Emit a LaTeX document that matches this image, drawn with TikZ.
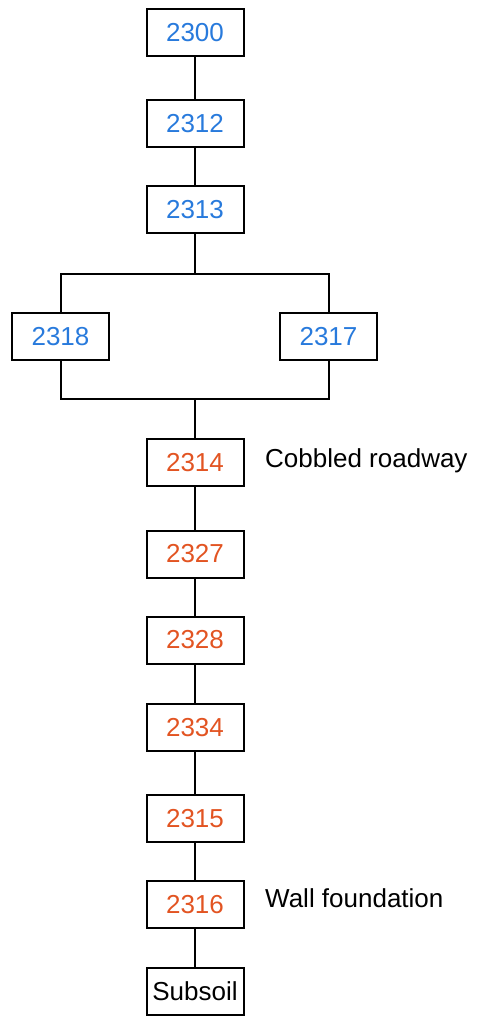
\documentclass[tikz,border=0pt]{standalone}
\usepackage{fontspec}
\setmainfont{Liberation Sans}
\usepackage{tikz}
\usetikzlibrary{calc}
\definecolor{ctxblue}{RGB}{40,122,220}
\definecolor{ctxorange}{RGB}{226,84,34}
\begin{document}
\begin{tikzpicture}[x=1pt,y=-1pt,
    ctx/.style={draw, line width=2pt, minimum width=97pt, minimum height=47pt, inner sep=0pt, font=\fontsize{26}{30}\selectfont},
    early/.style={ctx, text=ctxblue},
    late/.style={ctx, text=ctxorange},
    note/.style={font=\fontsize{26}{30}\selectfont, anchor=base west, inner sep=0pt},
    link/.style={line width=2pt}]
\useasboundingbox (0,0) rectangle (477,1016);
\node [early] (c2300) at (195,32.5) {2300};
\node [early] (c2312) at (195,124) {2312};
\node [early] (c2313) at (195,209.5) {2313};
\node [early] (c2318) at (60.5,336.5) {2318};
\node [early] (c2317) at (328.5,336.5) {2317};
\node [late] (c2314) at (195,462.5) {2314};
\node [late] (c2327) at (195,554) {2327};
\node [late] (c2328) at (195,640) {2328};
\node [late] (c2334) at (195,727.5) {2334};
\node [late] (c2315) at (195,818.5) {2315};
\node [late] (c2316) at (195,904.5) {2316};
\node [ctx, inner sep=1pt] (soil) at (195,991) {Subsoil};
\node [note] (road) at (265,467) {Cobbled roadway};
\node [note] (wall) at (265,907) {Wall foundation};
\coordinate (split) at (195,274);
\coordinate (merge) at (195,399);
\draw [link] (c2300) -- (c2312);
\draw [link] (c2312) -- (c2313);
\draw [link] (c2313) -- (split);
\draw [link] (c2318.north) -- (c2318.north |- split) -- (c2317.north |- split) -- (c2317.north);
\draw [link] (c2318.south) -- (c2318.south |- merge) -- (c2317.south |- merge) -- (c2317.south);
\draw [link] (merge) -- (c2314);
\draw [link] (c2314) -- (c2327);
\draw [link] (c2327) -- (c2328);
\draw [link] (c2328) -- (c2334);
\draw [link] (c2334) -- (c2315);
\draw [link] (c2315) -- (c2316);
\draw [link] (c2316) -- (soil);
\end{tikzpicture}
\end{document}
